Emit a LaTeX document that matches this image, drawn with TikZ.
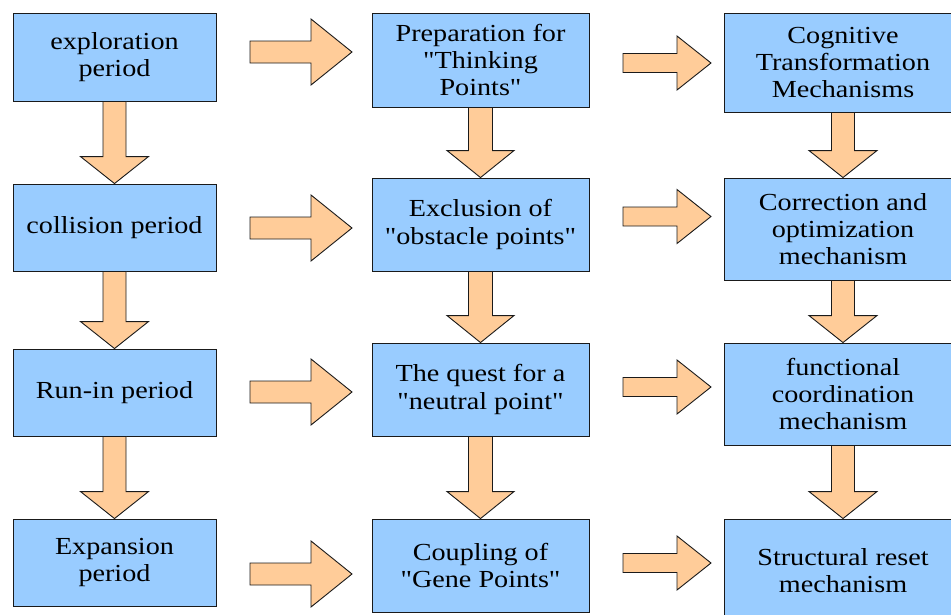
\documentclass[tikz,border=0pt]{standalone}
\usepackage{fontspec}
\newfontfamily\boxfont{Liberation Serif}[FakeStretch=1.15]
\usetikzlibrary{calc}
\definecolor{boxblue}{HTML}{99CCFF}
\definecolor{arrorange}{HTML}{FFCC99}
\definecolor{edgecol}{HTML}{1A1A1A}
\newcommand\vblock[5]{% from node, to node, shaft half, head half, head length
  \draw[blockarr] let \p1=(#1.south), \p2=(#2.north) in
  (\x2-#3pt,\y1) -- (\x2+#3pt,\y1) -- (\x2+#3pt,\y2+#5pt) -- (\x2+#4pt,\y2+#5pt)
  -- (\x2,\y2) -- (\x2-#4pt,\y2+#5pt) -- (\x2-#3pt,\y2+#5pt) -- cycle;}
\newcommand\hblock[6]{% x start, x head base, x tip, y centre, shaft half, head half
  \draw[blockarr] (#1,#4-#5) -- (#2,#4-#5) -- (#2,#4-#6) -- (#3,#4)
  -- (#2,#4+#6) -- (#2,#4+#5) -- (#1,#4+#5) -- cycle;}
\begin{document}
\begin{tikzpicture}[x=1pt,y=-1pt,
  box/.style={draw=edgecol, line width=0.9pt, fill=boxblue, align=center,
    inner sep=0pt, font=\boxfont\fontsize{24.5}{27.3}\selectfont},
  blockarr/.style={draw=edgecol, line width=0.9pt, fill=arrorange, line join=miter}]
\useasboundingbox (0,0) rectangle (951,614);
\clip (0,0) rectangle (951,614);
% column 1
\node[box, minimum width=203pt, minimum height=88pt] (a1) at (114.5,57) {exploration\\period};
\node[box, minimum width=203pt, minimum height=87pt] (a2) at (114.5,227.5) {collision period};
\node[box, minimum width=203pt, minimum height=87pt] (a3) at (114.5,392.5) {Run-in period};
\node[box, minimum width=203pt, minimum height=87pt] (a4) at (114.5,562.5) {Expansion\\period};
% column 2
\node[box, minimum width=217pt, minimum height=94pt] (b1) at (480.5,60) {Preparation for\\"Thinking\\Points"};
\node[box, minimum width=217pt, minimum height=93pt] (b2) at (480.5,224.5) {Exclusion of\\"obstacle points"};
\node[box, minimum width=217pt, minimum height=93pt] (b3) at (480.5,389.5) {The quest for a\\"neutral point"};
\node[box, minimum width=217pt, minimum height=93pt] (b4) at (480.5,565.5) {Coupling of\\"Gene Points"};
% column 3
\node[box, minimum width=238pt, minimum height=99pt] (c1) at (843,62.5) {Cognitive\\Transformation\\Mechanisms};
\node[box, minimum width=238pt, minimum height=102pt] (c2) at (843,229) {Correction and\\optimization\\mechanism};
\node[box, minimum width=238pt, minimum height=102pt] (c3) at (843,394) {functional\\coordination\\mechanism};
\node[box, minimum width=238pt, minimum height=103pt] (c4) at (843,570.5) {Structural reset\\mechanism};
% down arrows
\vblock{a1}{a2}{11.5}{34}{27}
\vblock{a2}{a3}{11.5}{34}{27}
\vblock{a3}{a4}{11.5}{34}{27}
\vblock{b1}{b2}{12}{33.5}{27}
\vblock{b2}{b3}{12}{33.5}{27}
\vblock{b3}{b4}{12}{33.5}{27}
\vblock{c1}{c2}{11.5}{34}{27}
\vblock{c2}{c3}{11.5}{34}{27}
\vblock{c3}{c4}{11.5}{34}{27}
% right arrows
\hblock{250}{311}{352}{52}{11}{33}
\hblock{250}{311}{352}{228}{11}{33}
\hblock{250}{311}{352}{392}{11}{33}
\hblock{250}{311}{352}{574}{11}{33}
\hblock{623}{677}{711}{63}{9.5}{27}
\hblock{623}{677}{711}{216.5}{9.5}{27}
\hblock{623}{677}{711}{387}{9.5}{27}
\hblock{623}{677}{711}{563}{9.5}{27}
\end{tikzpicture}
\end{document}
